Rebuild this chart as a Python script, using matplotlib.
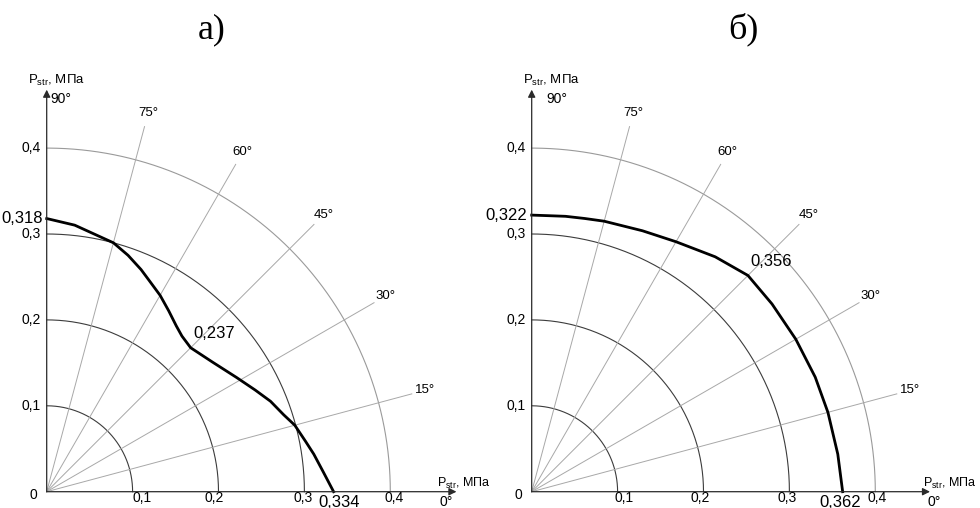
import numpy as np
import matplotlib.pyplot as plt

plt.rcParams['font.family'] = ['Liberation Sans', 'DejaVu Sans']
plt.rcParams['mathtext.fontset'] = 'custom'
plt.rcParams['mathtext.rm'] = 'Liberation Sans'

# grid
circle_r = [0.1, 0.2, 0.3, 0.4]
ray_deg = [15, 30, 45, 60, 75]
tick_labels = ['0,1', '0,2', '0,3', '0,4']

# curve a)
ang_a = [90, 84, 75, 71, 67, 64, 60, 56, 52, 49, 45, 38, 31, 26, 22, 18, 15, 11, 8, 4, 0]
rad_a = [0.318, 0.312, 0.300, 0.291, 0.281, 0.273, 0.264, 0.254, 0.245, 0.240, 0.237,
         0.245, 0.258, 0.270, 0.281, 0.290, 0.299, 0.307, 0.314, 0.323, 0.334]
# curve б)
ang_b = [90, 86, 83, 79, 75, 67, 60, 52, 45, 38, 30, 22, 15, 7, 0]
rad_b = [0.322, 0.322, 0.323, 0.324, 0.326, 0.330, 0.336, 0.347, 0.356,
         0.355, 0.355, 0.356, 0.357, 0.359, 0.362]

titles = ['а)', 'б)']
marks_a = ['0,318', '0,237', '0,334']
marks_b = ['0,322', '0,356', '0,362']

W, H = 980, 508
scale = 859.0  # px per MPa
origin_y = 491.7
axis_lab = 'P$_{\\mathrm{str}}$, МПа'


def xy(deg, r):
    t = np.radians(np.asarray(deg, dtype=float))
    return np.asarray(r) * np.cos(t), np.asarray(r) * np.sin(t)


def make_ax(fig, left_px, origin_x):
    ax = fig.add_axes([left_px / W, 0, 490 / W, 1])
    x0 = (left_px - origin_x) / scale
    ax.set_xlim(x0, x0 + 490 / scale)
    ax.set_ylim(-(H - origin_y) / scale, origin_y / scale)
    ax.axis('off')
    return ax


def draw_grid(ax, xtip, ytip, tick_x, lab_x, deg90_x, xlab_x, zero_x):
    th = np.linspace(0, 90, 200)
    for r in circle_r:
        c = '#9a9a9a' if r == 0.4 else '#3c3c3c'
        x, y = xy(th, r)
        ax.plot(x, y, color=c, lw=0.8)
    for d in ray_deg:
        x, y = xy([d, d], [0, 0.44])
        ax.plot(x, y, color='#a8a8a8', lw=0.7)
        lx, ly = xy(d, 0.456)
        ax.text(lx, ly, f'{d}°', fontsize=9.5, ha='center', va='center')
    for tip in [(xtip, 0), (0, ytip)]:
        ax.annotate('', xy=tip, xytext=(0, 0),
                    arrowprops=dict(arrowstyle='-|>', color='#2a2a2a', lw=0.9,
                                    mutation_scale=11, shrinkA=0, shrinkB=0))
    for r, tx, t in zip(circle_r, tick_x, tick_labels):
        ax.text(tx, -0.0068, t, fontsize=10, ha='center', va='center')
        ax.text(-0.007, r, t, fontsize=10, ha='right', va='center')
    ax.text(-0.0155, -0.0040, '0', fontsize=10, ha='center', va='center')
    ax.text(lab_x, 0.479, axis_lab, fontsize=9.5, ha='left', va='center')
    ax.text(deg90_x, 0.4575, '90°', fontsize=10, ha='left', va='center')
    ax.text(xlab_x, 0.0101, axis_lab, fontsize=9, ha='left', va='center')
    ax.text(zero_x, -0.0116, '0°', fontsize=10, ha='center', va='center')


fig = plt.figure(figsize=(W / 100, H / 100), dpi=100)

# a)
ax1 = make_ax(fig, 0, 46.7)
draw_grid(ax1, 0.477, 0.468, [0.1113, 0.1945, 0.2987, 0.4045],
          -0.0218, 0.004, 0.454, 0.4654)
x, y = xy(ang_a, rad_a)
ax1.plot(x, y, color='black', lw=2.0, solid_joinstyle='round')
ax1.text(-0.004, rad_a[0], marks_a[0], fontsize=12, ha='right', va='center')
kx, ky = xy(45, rad_a[ang_a.index(45)])
ax1.annotate(marks_a[1], (kx, ky), xytext=(2, 5), textcoords='offset points',
             fontsize=12, ha='left', va='bottom')
ax1.text(rad_a[-1] + 0.006, -0.0125, marks_a[2], fontsize=12, ha='center', va='center')
ax1.text(0.192, 0.5375, titles[0], fontsize=26, family='Liberation Serif',
         ha='center', va='center')

# б)
ax2 = make_ax(fig, 490, 531.7)
draw_grid(ax2, 0.4637, 0.468, [0.1078, 0.1965, 0.2978, 0.4024],
          -0.010, 0.0166, 0.4555, 0.468)
x, y = xy(ang_b, rad_b)
ax2.plot(x, y, color='black', lw=2.0, solid_joinstyle='round')
ax2.text(-0.0058, rad_b[0], marks_b[0], fontsize=12, ha='right', va='center')
kx, ky = xy(45, rad_b[ang_b.index(45)])
ax2.annotate(marks_b[1], (kx, ky), xytext=(2, 5), textcoords='offset points',
             fontsize=12, ha='left', va='bottom')
ax2.text(rad_b[-1] - 0.003, -0.0125, marks_b[2], fontsize=12, ha='center', va='center')
ax2.text(0.247, 0.5375, titles[1], fontsize=26, family='Liberation Serif',
         ha='center', va='center')

fig.savefig('out.png', dpi=100)
